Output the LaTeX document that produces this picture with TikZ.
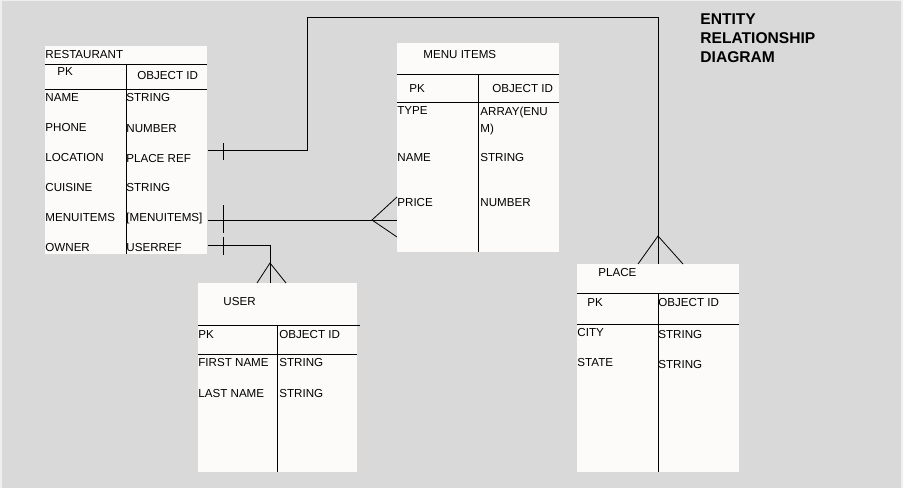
\documentclass[tikz,border=0pt]{standalone}
\usepackage{fontspec}
\setmainfont{Liberation Sans}
\usetikzlibrary{positioning}
\definecolor{frame}{HTML}{EFEFEF}
\definecolor{board}{HTML}{D9D9D9}
\definecolor{card}{HTML}{FDFBFA}

\begin{document}
\begin{tikzpicture}[x=1pt, y=-1pt, line width=0.8pt,
    font=\fontsize{11.6}{14}\selectfont,
    table/.style={fill=card, inner sep=0pt, anchor=north west},
    field/.style={inner sep=0pt, anchor=west, text height=8.2pt, text depth=0pt}]
            \fill[frame] (0,0) rectangle (903,488);
            \fill[board] (2,1) rectangle (901,488);
            \useasboundingbox (0,0) rectangle (903,488);

            % tables
            \node[table, minimum width=162pt, minimum height=208pt] (rest) at (45,46) {};
            \node[table, minimum width=162pt, minimum height=209pt] (menu) at (397,43) {};
            \node[table, minimum width=159pt, minimum height=189pt] (user) at (198,283) {};
            \node[table, minimum width=162pt, minimum height=208pt] (place) at (577,264) {};

            % restaurant
            \draw (45,64) -- (207,64) (45,89) -- (207,89) (126,64) -- (126,254);
            \node[field] (rest-t) at (45,54) {RESTAURANT};
            \node[field] (rest-pk) at (57,71) {PK};
            \node[field] (rest-id) at (137,75) {OBJECT ID};
            \node[field] (rest-name) at (45,97) {NAME};
            \node[field] (rest-phone) at (45,127) {PHONE};
            \node[field] (rest-loc) at (45,157) {LOCATION};
            \node[field] (rest-cuis) at (45,187) {CUISINE};
            \node[field] (rest-menu) at (45,217) {MENUITEMS};
            \node[field] (rest-own) at (45,247) {OWNER};
            \node[field] (rest-name-t) at (126,97) {STRING};
            \node[field] (rest-phone-t) at (126,128) {NUMBER};
            \node[field] (rest-loc-t) at (126,158) {PLACE REF};
            \node[field] (rest-cuis-t) at (126,187) {STRING};
            \node[field] (rest-menu-t) at (126,217) {[MENUITEMS]};
            \node[field] (rest-own-t) at (126,247) {USERREF};

            % menu items
            \draw (397,74) -- (559,74) (397,102) -- (559,102) (478,74) -- (478,252);
            \node[field] (menu-t) at (423,54) {MENU ITEMS};
            \node[field] (menu-pk) at (409,88) {PK};
            \node[field] (menu-id) at (492,88) {OBJECT ID};
            \node[field] (menu-type) at (397,110) {TYPE};
            \node[inner sep=0pt, anchor=north west, align=left, font=\fontsize{11.6}{17}\selectfont] (menu-type-t) at (480,107) {ARRAY(ENU\\M)};
            \node[field] (menu-name) at (397,157) {NAME};
            \node[field] (menu-name-t) at (480,157) {STRING};
            \node[field] (menu-price) at (397,202) {PRICE};
            \node[field] (menu-price-t) at (480,202) {NUMBER};

            % user
            \draw (198,325) -- (360,325) (198,354) -- (357,354) (277,325) -- (277,472);
            \node[field] (user-t) at (223,301) {USER};
            \node[field] (user-pk) at (198,334) {PK};
            \node[field] (user-id) at (279,334) {OBJECT ID};
            \node[field] (user-first) at (198,362) {FIRST NAME};
            \node[field] (user-first-t) at (279,362) {STRING};
            \node[field] (user-last) at (198,393) {LAST NAME};
            \node[field] (user-last-t) at (279,393) {STRING};

            % place
            \draw (577,293) -- (739,293) (577,324) -- (739,324) (658,293) -- (658,472);
            \node[field] (place-t) at (598,272) {PLACE};
            \node[field] (place-pk) at (587,302) {PK};
            \node[field] (place-id) at (658,302) {OBJECT ID};
            \node[field] (place-city) at (577,332) {CITY};
            \node[field] (place-state) at (577,362) {STATE};
            \node[field] (place-city-t) at (658,334) {STRING};
            \node[field] (place-state-t) at (658,364) {STRING};

            \node[inner sep=0pt, anchor=north west, align=left, font=\bfseries\fontsize{15.6}{19}\selectfont] (title) at (700,13) {ENTITY\\RELATIONSHIP\\DIAGRAM};

            % relations
            \coordinate (bend) at (307,17);
            \draw (rest.east |- 0,150) -| (bend) -| (place.north);
            \draw (223,143) -- (223,160);
            \draw (638,264) -- (658,236) -- (683,264);

            \draw (rest.east |- 0,220) -- (menu.west |- 0,220);
            \draw (223,205) -- (223,233);
            \draw (397,197) -- (372,220) -- (397,237);

            \draw (rest.east |- 0,245) -| ([xshift=-7.5pt]user.north);
            \draw (223,237) -- (223,255);
            \draw (257,283) -- (270,263) -- (286,283);
        \end{tikzpicture}
\end{document}
